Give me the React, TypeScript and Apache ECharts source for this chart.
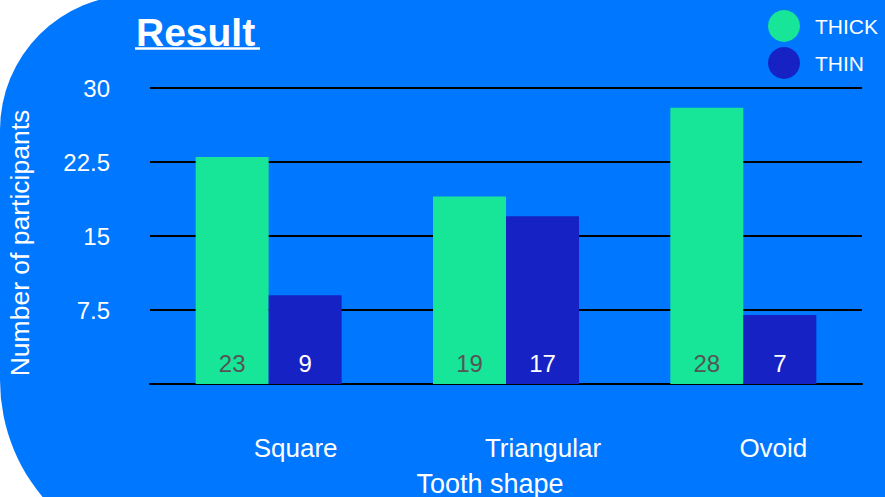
import React, { useEffect, useRef } from "react";
import * as echarts from "echarts";

const categories = ["Square", "Triangular", "Ovoid"];
const thick = [23, 19, 28];
const thin = [9, 17, 7];
const seriesNames = ["THICK", "THIN"];
const yMin = 0;
const yMax = 30;
const yInterval = 7.5;

const FONT = "Liberation Sans, Arial, Helvetica, sans-serif";
const labelShift = [54, 74, 60];

export default function App() {
  const ref = useRef<HTMLDivElement>(null);
  useEffect(() => {
    if (!ref.current) return;
    const chart = echarts.init(ref.current, null, { renderer: "svg" });
    const rich: Record<string, any> = {};
    labelShift.forEach((p, i) => {
      rich["c" + i] = {
        color: "#ffffff",
        fontSize: 26,
        fontFamily: FONT,
        padding: [0, 0, 0, p],
      };
    });
    chart.setOption({
      animation: false,
      backgroundColor: "#ffffff",
      color: ["#17E597", "#1622C3"],
      title: {
        text: "Result",
        left: 131,
        top: 8,
        textStyle: { color: "#ffffff", fontSize: 39, fontWeight: "bold", fontFamily: FONT },
      },
      graphic: [
        {
          type: "rect",
          z: -10,
          silent: true,
          shape: { x: 0, y: -5, width: 1000, height: 567, r: [135, 0, 0, 182] },
          style: { fill: "#0077FF" },
        },
        {
          type: "line",
          z: 10,
          silent: true,
          shape: { x1: 135, y1: 48.5, x2: 260, y2: 48.5 },
          style: { stroke: "#ffffff", lineWidth: 2.5 },
        },
      ],
      legend: {
        orient: "vertical",
        left: 763,
        top: 5,
        icon: "circle",
        itemWidth: 32,
        itemHeight: 32,
        itemGap: 5,
        textStyle: { color: "#ffffff", fontSize: 21, fontFamily: FONT, padding: [0, 0, 0, 10] },
        data: seriesNames,
      },
      grid: {
        left: 150,
        right: 23,
        top: 88,
        bottom: 113,
        containLabel: false,
        outerBoundsMode: "none",
      },
      xAxis: {
        type: "category",
        data: categories,
        axisTick: { show: false },
        axisLine: { lineStyle: { color: "#000000", width: 2 } },
        axisLabel: {
          color: "#ffffff",
          fontSize: 26,
          fontFamily: FONT,
          margin: 51,
          formatter: (v: string) => {
            const i = categories.indexOf(v);
            return "{c" + i + "|" + v + "}";
          },
          rich,
        },
        name: "Tooth shape",
        nameLocation: "middle",
        nameGap: 86,
        nameTextStyle: { color: "#ffffff", fontSize: 27, fontFamily: FONT, padding: [0, 32, 0, 0] },
      },
      yAxis: {
        type: "value",
        min: yMin,
        max: yMax,
        interval: yInterval,
        axisLine: { show: false },
        axisTick: { show: false },
        splitLine: { lineStyle: { color: "#000000", width: 2 } },
        axisLabel: {
          color: "#ffffff",
          fontSize: 24,
          fontFamily: FONT,
          margin: 40,
          showMinLabel: false,
          formatter: (v: number) => (v === 0 ? "" : String(v)),
        },
        name: "Number of participants",
        nameLocation: "middle",
        nameGap: 117,
        nameTextStyle: { color: "#ffffff", fontSize: 26.5, fontFamily: FONT, padding: [0, 14, 0, 0] },
      },
      series: [
        {
          name: seriesNames[0],
          type: "bar",
          data: thick,
          barWidth: 73,
          barGap: "0%",
          label: {
            show: true,
            position: "insideBottom",
            distance: 9,
            color: "#555555",
            fontSize: 24,
            fontFamily: FONT,
          },
        },
        {
          name: seriesNames[1],
          type: "bar",
          data: thin,
          barWidth: 73,
          barGap: "0%",
          label: {
            show: true,
            position: "insideBottom",
            distance: 9,
            color: "#ffffff",
            fontSize: 24,
            fontFamily: FONT,
          },
        },
      ],
    });
    return () => chart.dispose();
  }, []);
  return (
    <div
      ref={ref}
      style={{ position: "fixed", left: 0, top: 0, width: 885, height: 497 }}
    />
  );
}
